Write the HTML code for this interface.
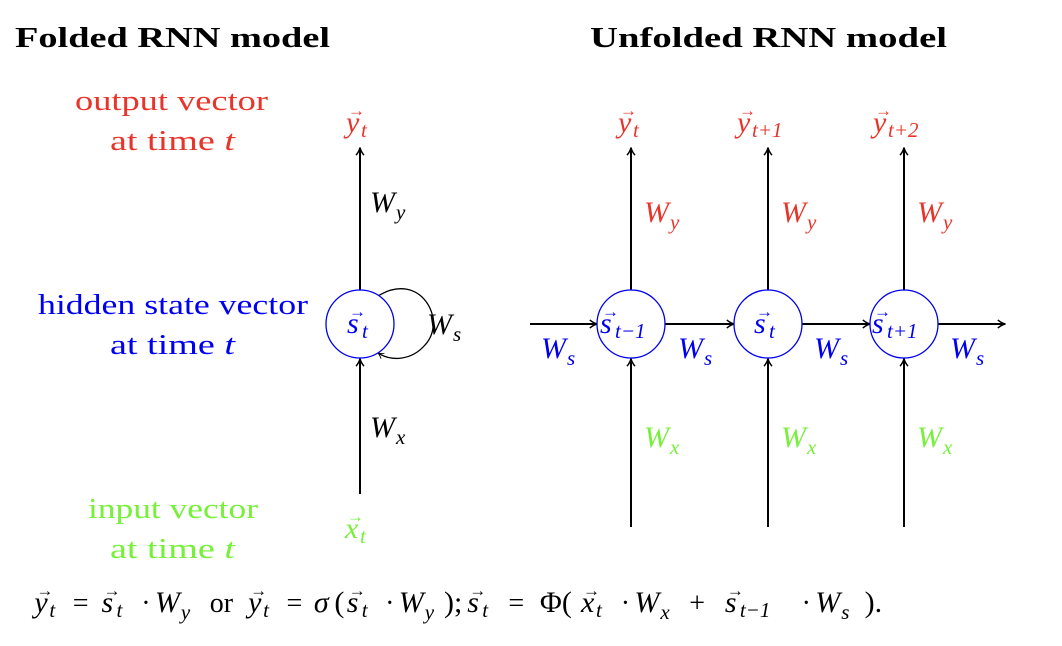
<!DOCTYPE html>
<html><head><meta charset="utf-8"><style>
html,body{margin:0;padding:0;background:#fff;}
svg{display:block;font-family:"Liberation Serif",serif;}
.t{font-size:28px;}
.it{font-style:italic;}
</style></head><body>
<svg id="svg" width="1062" height="646" viewBox="0 0 1062 646">
<defs>
<marker id="ah" viewBox="0 0 10 10" refX="9" refY="5" markerWidth="9" markerHeight="9" orient="auto" markerUnits="userSpaceOnUse">
<path d="M1,0.5 Q5,4 9.5,5 Q5,6 1,9.5" fill="none" stroke="#000" stroke-width="1.6"/></marker>
<marker id="ahs" viewBox="0 0 10 10" refX="9" refY="5" markerWidth="7" markerHeight="7" orient="auto" markerUnits="userSpaceOnUse">
<path d="M1,0.5 Q5,4 9.5,5 Q5,6 1,9.5" fill="none" stroke="#000" stroke-width="1.2"/></marker>
</defs>
<g font-weight="bold" font-size="28">
<text x="15" y="47" textLength="315" lengthAdjust="spacingAndGlyphs">Folded RNN model</text>
<text x="590" y="47" textLength="357" lengthAdjust="spacingAndGlyphs">Unfolded RNN model</text>
</g>
<g class="t">
<text x="75" y="110" textLength="193" lengthAdjust="spacingAndGlyphs" fill="#e8352b">output vector</text>
<text x="110" y="150" textLength="125" lengthAdjust="spacingAndGlyphs" fill="#e8352b">at time <tspan class="it">t</tspan></text>
<text x="38" y="314" textLength="270" lengthAdjust="spacingAndGlyphs" fill="#0000f0">hidden state vector</text>
<text x="110" y="354" textLength="125" lengthAdjust="spacingAndGlyphs" fill="#0000f0">at time <tspan class="it">t</tspan></text>
<text x="88" y="518" textLength="170" lengthAdjust="spacingAndGlyphs" fill="#77f03a">input vector</text>
<text x="110" y="558" textLength="125" lengthAdjust="spacingAndGlyphs" fill="#77f03a">at time <tspan class="it">t</tspan></text>
</g>
<g stroke="#000" stroke-width="2" fill="none">
<line x1="360" y1="290" x2="360" y2="148" marker-end="url(#ah)"/>
<line x1="360" y1="494" x2="360" y2="359" marker-end="url(#ah)"/>
<path d="M378,296 C420,270 448,320 425,345 C412,360 392,362 378,353" stroke-width="1.3" marker-end="url(#ahs)"/>
<circle cx="360" cy="324" r="34" stroke="#0000f0" stroke-width="1.3" fill="#fff"/>
</g>
<g stroke="#000" stroke-width="2" fill="none">
<line x1="530" y1="324" x2="597" y2="324" marker-end="url(#ah)"/>
<line x1="665" y1="324" x2="734" y2="324" marker-end="url(#ah)"/>
<line x1="802" y1="324" x2="870" y2="324" marker-end="url(#ah)"/>
<line x1="938" y1="324" x2="1005" y2="324" marker-end="url(#ah)"/>
<line x1="631" y1="290" x2="631" y2="148" marker-end="url(#ah)"/>
<line x1="768" y1="290" x2="768" y2="148" marker-end="url(#ah)"/>
<line x1="904" y1="290" x2="904" y2="148" marker-end="url(#ah)"/>
<line x1="631" y1="527" x2="631" y2="359" marker-end="url(#ah)"/>
<line x1="768" y1="527" x2="768" y2="359" marker-end="url(#ah)"/>
<line x1="904" y1="527" x2="904" y2="359" marker-end="url(#ah)"/>
<circle cx="631" cy="324" r="34" stroke="#0000f0" stroke-width="1.3" fill="#fff"/>
<circle cx="768" cy="324" r="34" stroke="#0000f0" stroke-width="1.3" fill="#fff"/>
<circle cx="904" cy="324" r="34" stroke="#0000f0" stroke-width="1.3" fill="#fff"/>
</g>
<g id="labels"></g>
<g id="eq"></g>
<script>
var NS="http://www.w3.org/2000/svg";
var R="#e8352b",B="#0000f0",G="#77f03a",K="#000";
function txt(par,x,y,s,size,col,italic){
  var e=document.createElementNS(NS,"text");
  e.setAttribute("x",x);e.setAttribute("y",y);
  e.setAttribute("font-size",size);e.setAttribute("fill",col);
  if(italic)e.setAttribute("font-style","italic");
  e.textContent=s;par.appendChild(e);return e;
}
function vec(par,x,y,l,sub,col){
  txt(par,x,y,l,30,col,true);
  txt(par,x+2,y-16,"→",17,col,false);
  txt(par,x+15,y+5,sub,21,col,true);
}
function W(par,x,y,sub,col){
  txt(par,x,y,"W",30,col,true);
  txt(par,x+26,y+7,sub,21,col,true);
}
var L=document.getElementById("labels");
vec(L,346,132,"y","t",R);
W(L,370,212,"y",K);W(L,427,334,"s",K);W(L,370,437,"x",K);
vec(L,345,538,"x","t",G);
vec(L,347,333,"s","t",B);
vec(L,618,132,"y","t",R);vec(L,737,132,"y","t+1",R);vec(L,873,132,"y","t+2",R);
[644,781,917].forEach(function(x){W(L,x,222,"y",R);W(L,x,447,"x",G);});
[541,678,814,950].forEach(function(x){W(L,x,358,"s",B);});
vec(L,600,333,"s","t−1",B);vec(L,754,333,"s","t",B);vec(L,872,333,"s","t+1",B);
var E=document.getElementById("eq");var y=612;
function X(v){return 33+(v-33)*1.37;}
vec(E,X(34),y,"y","t",K);txt(E,X(62),y,"=",28,K,false);
vec(E,X(83),y,"s","t",K);txt(E,X(112),y,"·",28,K,false);W(E,X(122),y,"y",K);
txt(E,X(162),y,"or",28,K,false);
vec(E,X(190),y,"y","t",K);txt(E,X(218),y,"=",28,K,false);
txt(E,X(238),y,"σ",30,K,true);txt(E,X(253),y,"(",30,K,false);
vec(E,X(262),y,"s","t",K);txt(E,X(290),y,"·",28,K,false);W(E,X(300),y,"y",K);
txt(E,X(333),y,");",30,K,false);
vec(E,X(350),y,"s","t",K);txt(E,X(380),y,"=",28,K,false);
txt(E,X(403),y,"Φ(",30,K,false);
vec(E,X(433),y,"x","t",K);txt(E,X(462),y,"·",28,K,false);W(E,X(472),y,"x",K);
txt(E,X(512),y,"+",28,K,false);
vec(E,X(538),y,"s","t−1",K);txt(E,X(594),y,"·",28,K,false);W(E,X(604),y,"s",K);
txt(E,X(640),y,").",30,K,false);
</script>
</svg>
</body></html>
